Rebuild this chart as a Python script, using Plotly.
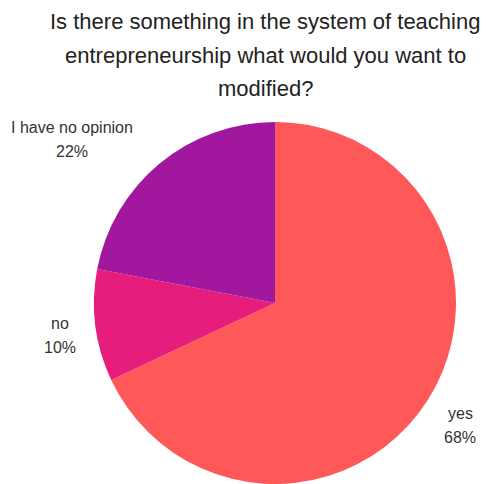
import plotly.graph_objects as go

labels = ["yes", "no", "I have no opinion"]
values = [68, 10, 22]
colors = ["#FF5858", "#E61D7C", "#A1189E"]

title_lines = [
    "Is there something in the system of teaching",
    "entrepreneurship what would you want to",
    "modified?",
]

W, H = 486, 484

fig = go.Figure(
    go.Pie(
        labels=labels,
        values=values,
        marker=dict(colors=colors, line=dict(width=0)),
        sort=False,
        direction="clockwise",
        rotation=0,
        textinfo="none",
        hoverinfo="label+percent",
        showlegend=False,
        domain=dict(x=[94 / W, 456 / W], y=[0, 362 / H]),
    )
)

FONT = "Liberation Sans, Arial, sans-serif"
annotations = []
# title, one annotation per line
for i, line in enumerate(title_lines):
    annotations.append(
        dict(
            text=line,
            x=265 / W,
            y=1 - (22 + 33 * i) / H,
            xref="paper",
            yref="paper",
            xanchor="center",
            yanchor="middle",
            showarrow=False,
            font=dict(family=FONT, size=22, color="#222222"),
        )
    )

# outside slice labels: name on one line, percentage below
label_pos = {"yes": (460, 413), "no": (60, 323), "I have no opinion": (72, 127)}
total = sum(values)
for lab, val in zip(labels, values):
    px, py = label_pos[lab]
    for j, txt in enumerate([lab, f"{round(100 * val / total)}%"]):
        annotations.append(
            dict(
                text=txt,
                x=px / W,
                y=1 - (py + 24 * j) / H,
                xref="paper",
                yref="paper",
                xanchor="center",
                yanchor="middle",
                showarrow=False,
                font=dict(family=FONT, size=16, color="#333333"),
            )
        )

fig.update_layout(
    width=W,
    height=H,
    margin=dict(l=0, r=0, t=0, b=0),
    paper_bgcolor="white",
    plot_bgcolor="white",
    annotations=annotations,
)

fig.write_html("out.html")
